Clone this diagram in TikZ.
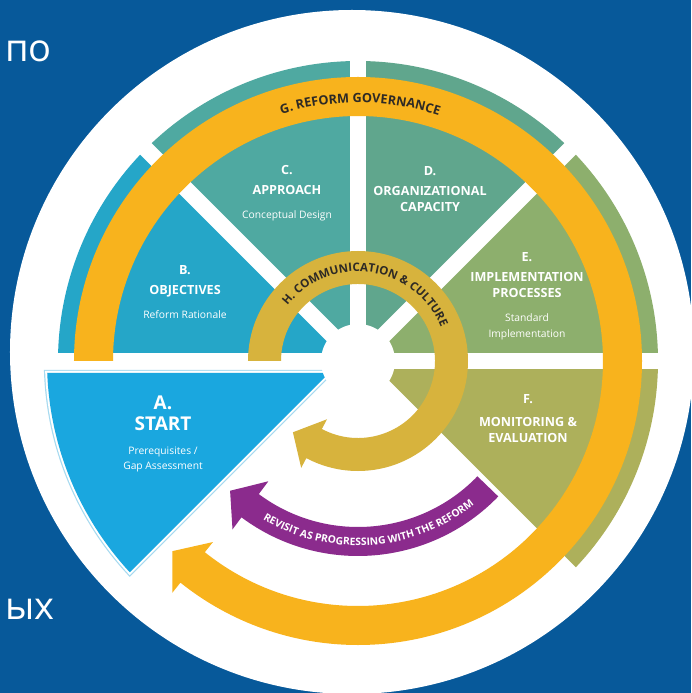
\documentclass[tikz,border=0pt]{standalone}
\usepackage{fontspec}
\setmainfont{Open Sans}
\usetikzlibrary{calc,decorations.text}
\definecolor{bgblue}{HTML}{07599A}
\definecolor{Aclr}{HTML}{1AA7DF}
\definecolor{Aline}{HTML}{A6DAF0}
\definecolor{Bclr}{HTML}{25A6C8}
\definecolor{Cclr}{HTML}{4FA9A1}
\definecolor{Dclr}{HTML}{60A68D}
\definecolor{Eclr}{HTML}{8DAF6D}
\definecolor{Fclr}{HTML}{ADB05B}
\definecolor{Gclr}{HTML}{F8B31D}
\definecolor{Hclr}{HTML}{D7B33D}
\definecolor{Pclr}{HTML}{8B2B8D}
\definecolor{ringtext}{HTML}{2E2A25}
\newcommand{\subfont}{\mdseries\fontsize{10.3}{12}\selectfont}

\begin{document}
\begin{tikzpicture}[x=1pt,y=1pt,
		spoke/.style={white,line width=16pt},
		lbl/.style={text=white,align=center,inner sep=0pt,font=\bfseries\fontsize{12.6}{16}\selectfont},
		bigfont/.style={font=\bfseries\fontsize{19}{15}\selectfont},
		slide/.style={text=white,inner sep=0pt,font=\fontsize{38}{40}\selectfont}
		]
		\useasboundingbox (-358,-332) rectangle (333,361);
		\clip (-358,-332) rectangle (333,361);
		\fill[bgblue] (-358,-332) rectangle (333,361);
		\fill[white] (-6,9) circle (342);
		\coordinate (O) at (0,0);
		
		% wheel sectors B to F
		\foreach \a/\c in {180/Bclr,135/Cclr,90/Dclr,45/Eclr,0/Fclr}
		\fill[\c] (O) -- (\a:300) arc[start angle=\a,end angle=\a-45,radius=300] -- cycle;
		\foreach \a in {180,135,90,45,0,-45}
		\draw[spoke] (O) -- (\a:310);
		
		% start sector
		\fill[Aclr,line join=round,preaction={draw=Aline,line width=6.4pt},
		preaction={draw=white,line width=4pt}]
		(-28.97,-12) -- (182.21:311) arc[start angle=182.21,end angle=222.79,radius=311] -- cycle;
		\fill[white] (O) circle (37);
		
		% governance ring
		\fill[Gclr] (180:284) arc[start angle=180,end angle=-128.7,radius=284]
		-- (-128.7:297) -- ($(-128.7:264.5)+(141.3:26)$) -- (-128.7:232)
		-- (-128.7:245) arc[start angle=-128.7,end angle=180,radius=245] -- cycle;
		% communication ring
		\fill[Hclr] (180:110) arc[start angle=180,end angle=-118,radius=110]
		-- (-118:121) -- ($(-118:93.5)+(152:24)$) -- (-118:66)
		-- (-118:77) arc[start angle=-118,end angle=180,radius=77] -- cycle;
		% revisit arrow
		\fill[Pclr] (-44:195) arc[start angle=-44,end angle=-126.7,radius=195]
		-- (-126.7:210) -- ($(-126.7:180.5)+(143.3:25)$) -- (-126.7:150)
		-- (-126.7:166) arc[start angle=-126.7,end angle=-44,radius=166] -- cycle;
		
		\path[decorate,decoration={text along path,text align=center,text color=ringtext,
			text={|\bfseries\fontsize{12.7}{13}\selectfont|G. REFORM GOVERNANCE}}]
		(125:258.5) arc[start angle=125,end angle=54,radius=258.5];
		\path[decorate,decoration={text along path,text align=center,text color=ringtext,
			text={|\bfseries\fontsize{11.6}{12}\selectfont|H. COMMUNICATION {\&} CULTURE}}]
		(167:89.5) arc[start angle=167,end angle=-3,radius=89.5];
		\path[decorate,decoration={text along path,text align=center,text color=white,
			text={|\bfseries\fontsize{10.3}{12}\selectfont|REVISIT AS PROGRESSING WITH THE REFORM}}]
		(-135:184.5) arc[start angle=-135,end angle=-37,radius=184.5];
		
		\node[lbl,bigfont] (SA) at (-195,-73) {A.\\[6pt]START\\[9pt]{\subfont Prerequisites /}\\{\subfont Gap Assessment}};
		\node[lbl] (SB) at (-173,68.5) {B.\\[4pt]OBJECTIVES\\[8pt]{\subfont Reform Rationale}};
		\node[lbl] (SC) at (-71,168) {C.\\[4pt]APPROACH\\[8pt]{\subfont Conceptual Design}};
		\node[lbl] (SD) at (72,172) {D.\\[4pt]ORGANIZATIONAL\\CAPACITY};
		\node[lbl] (SE) at (169,65) {E.\\[4pt]IMPLEMENTATION\\PROCESSES\\[8pt]{\subfont Standard}\\{\subfont Implementation}};
		\node[lbl] (SF) at (170,-58) {F.\\[7pt]MONITORING \&\\EVALUATION};
		
		\node[slide,anchor=base west] (po) at (-353,299) {по};
		\node[slide,anchor=base east] (yh) at (-303,-258) {ых};
	\end{tikzpicture}
\end{document}
